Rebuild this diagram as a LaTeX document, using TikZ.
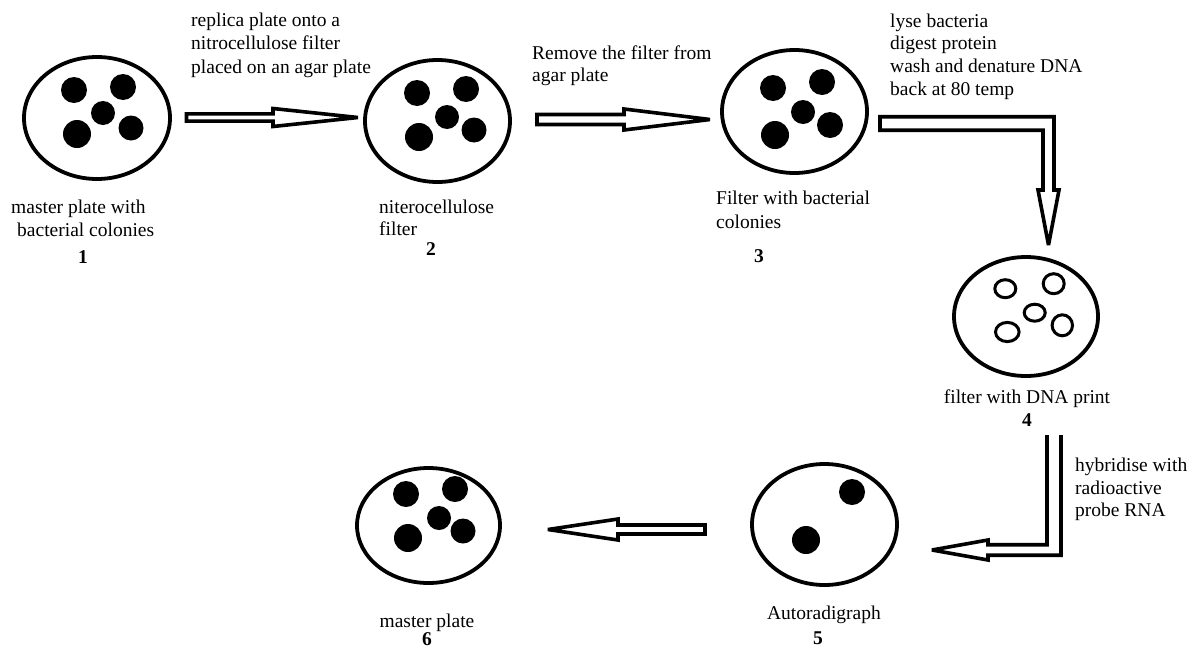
\documentclass[tikz,border=0pt]{standalone}
\usepackage{fontspec}
\setmainfont{Liberation Serif}
\usetikzlibrary{calc,shapes.geometric}

\tikzset{
  plate/.style={draw, ellipse, line width=3.8pt, inner sep=0pt, outer sep=0pt},
  colony/.style={fill=black},
  ring/.style={draw, line width=3pt},
  blockarrow/.style={draw, fill=white, line width=3.6pt, line join=miter, miter limit=2},
  lbl/.style={inner sep=0pt, font=\fontsize{19.5}{22.5}\selectfont},
  num/.style={inner sep=0pt, font=\fontsize{19.5}{22.5}\selectfont\bfseries},
}

% horizontal block arrow: tail, tip, head length, shaft half-width, head half-width
\newcommand\hblock[5]{%
  \draw[blockarrow] let \p1=(#1), \p2=(#2), \p3=($(#2)!#3pt!(#1)$) in
    (\x1,{\y1+#4pt}) -- (\x3,{\y1+#4pt}) -- (\x3,{\y1+#5pt}) -- (\x2,\y2)
    -- (\x3,{\y1-#5pt}) -- (\x3,{\y1-#4pt}) -- (\x1,{\y1-#4pt}) -- cycle;}

\begin{document}
\begin{tikzpicture}[x=1pt,y=-1pt]
\useasboundingbox[fill=white] (0,0) rectangle (1201,648);

% plates
\node[plate, minimum width=146pt, minimum height=122pt] (p1) at (97,118) {};
\node[plate, minimum width=145pt, minimum height=122pt] (p2) at (437.5,121) {};
\node[plate, minimum width=145pt, minimum height=123pt] (p3) at (794.5,111.5) {};
\node[plate, minimum width=144pt, minimum height=119pt] (p4) at (1026,316.5) {};
\node[plate, minimum width=145pt, minimum height=121pt] (p5) at (824.5,524.5) {};
\node[plate, minimum width=143pt, minimum height=115pt] (p6) at (428.5,525.5) {};

% colonies on the master plate
\fill[colony] (74,90) circle[radius=13pt];
\fill[colony] (123,87) circle[radius=13pt];
\fill[colony] (103,113) circle[radius=12pt];
\fill[colony] (77,134) circle[radius=14pt];
\fill[colony] (131,128) circle[radius=12.5pt];

% colonies on the filter
\fill[colony] (417,93) circle[radius=13pt];
\fill[colony] (466,89) circle[radius=13pt];
\fill[colony] (447,117) circle[radius=12pt];
\fill[colony] (419,137) circle[radius=14pt];
\fill[colony] (474,130) circle[radius=12.5pt];

% colonies on the lifted filter
\fill[colony] (773,88) circle[radius=13pt];
\fill[colony] (822,82) circle[radius=13pt];
\fill[colony] (803,112) circle[radius=12pt];
\fill[colony] (775,135) circle[radius=14pt];
\fill[colony] (830,125) circle[radius=13pt];

% DNA print
\draw[ring] (1005.3,288.7) ellipse[x radius=10.5pt, y radius=9pt];
\draw[ring] (1053.7,283.7) ellipse[x radius=10.5pt, y radius=10pt];
\draw[ring] (1034.7,312.7) ellipse[x radius=10.5pt, y radius=8.5pt];
\draw[ring] (1007.3,332) ellipse[x radius=11.8pt, y radius=9.6pt];
\draw[ring] (1062.3,325.3) ellipse[x radius=10.2pt, y radius=10.5pt];

% autoradiograph spots
\fill[colony] (852,492) circle[radius=13pt];
\fill[colony] (806,540) circle[radius=14pt];

% master plate again
\fill[colony] (406,494) circle[radius=13pt];
\fill[colony] (455,489) circle[radius=13pt];
\fill[colony] (439,518) circle[radius=12pt];
\fill[colony] (408,538) circle[radius=14pt];
\fill[colony] (463,531) circle[radius=12.5pt];

% arrow 1 -> 2
\coordinate (a1s) at ($(p1.east)+(16.5,-0.5)$);
\coordinate (a1e) at ($(a1s -| p2.west)+(-7,0)$);
\hblock{a1s}{a1e}{85}{3.6}{9}

% arrow 2 -> 3
\coordinate (a2s) at ($(p2.east)+(27,-1.5)$);
\coordinate (a2e) at ($(a2s -| p3.west)+(-12,0)$);
\hblock{a2s}{a2e}{86}{5}{10.5}

% arrow 3 -> 4 (bent)
\coordinate (a3s) at ($(p3.east)+(13,12)$);
\coordinate (a3e) at ($(p4.north)+(22.5,-12)$);
\draw[blockarrow] let \p1=(a3s), \p2=(a3e) in
  (\x1,{\y1+6.75pt}) -- ({\x2+5.5pt},{\y1+6.75pt}) -- ({\x2+5.5pt},{\y2+55pt})
  -- ({\x2+10.5pt},{\y2+55pt}) -- (\x2,\y2) -- ({\x2-10.5pt},{\y2+55pt})
  -- ({\x2-5.5pt},{\y2+55pt}) -- ({\x2-5.5pt},{\y1-6.75pt}) -- (\x1,{\y1-6.75pt}) -- cycle;

% arrow 4 -> 5 (bent, open at the top)
\coordinate (a4s) at ($(p4.south)+(28,59)$);
\coordinate (a4e) at ($(p5.east)+(35,25.5)$);
\draw[blockarrow] let \p1=(a4s), \p2=(a4e) in
  ({\x1-7pt},\y1) -- ({\x1-7pt},{\y2+5.25pt}) -- ({\x2+56pt},{\y2+5.25pt})
  -- ({\x2+56pt},{\y2+10pt}) -- (\x2,\y2) -- ({\x2+56pt},{\y2-10pt})
  -- ({\x2+56pt},{\y2-5.25pt}) -- ({\x1+7pt},{\y2-5.25pt}) -- ({\x1+7pt},\y1);

% arrow 5 -> 6
\coordinate (a6s) at ($(p5.west)+(-47,5)$);
\coordinate (a6e) at ($(a6s -| p6.east)+(48,0)$);
\hblock{a6s}{a6e}{70}{4.5}{10.5}

% step texts
\node[lbl, anchor=base west] (s1a) at (191,26) {replica plate onto a};
\node[lbl, anchor=base west] (s1b) at (191,49.5) {nitrocellulose filter};
\node[lbl, anchor=base west] (s1c) at (191,73) {placed on an agar plate};

\node[lbl, anchor=base west] (s2a) at (532,59) {Remove the filter from};
\node[lbl, anchor=base west] (s2b) at (532,81) {agar plate};

\node[lbl, anchor=base west] (s3a) at (890,27.5) {lyse bacteria};
\node[lbl, anchor=base west] (s3b) at (890,49.5) {digest protein};
\node[lbl, anchor=base west] (s3c) at (890,72.5) {wash and denature DNA};
\node[lbl, anchor=base west] (s3d) at (890,95) {back at 80 temp};

\node[lbl, anchor=base west] (s4a) at (1075,471) {hybridise with};
\node[lbl, anchor=base west] (s4b) at (1075,494) {radioactive};
\node[lbl, anchor=base west] (s4c) at (1075,516) {probe RNA};

% plate captions
\node[lbl, anchor=base west] (c1a) at (11,213) {master plate with};
\node[lbl, anchor=base west] (c1b) at (17,236) {bacterial colonies};
\node[num, anchor=base] (n1) at (83,263) {1};

\node[lbl, anchor=base west] (c2a) at (379,213) {niterocellulose};
\node[lbl, anchor=base west] (c2b) at (379,235) {filter};
\node[num, anchor=base] (n2) at (431,255.5) {2};

\node[lbl, anchor=base west] (c3a) at (716,204) {Filter with bacterial};
\node[lbl, anchor=base west] (c3b) at (716,228) {colonies};
\node[num, anchor=base] (n3) at (759,262) {3};

\node[lbl, anchor=base] (c4) at (1027,403) {filter with DNA print};
\node[num, anchor=base] (n4) at (1027,426) {4};

\node[lbl, anchor=base] (c5) at (824,619) {Autoradigraph};
\node[num, anchor=base] (n5) at (818,644) {5};

\node[lbl, anchor=base] (c6) at (427,627) {master plate};
\node[num, anchor=base] (n6) at (427,645) {6};
\end{tikzpicture}
\end{document}
